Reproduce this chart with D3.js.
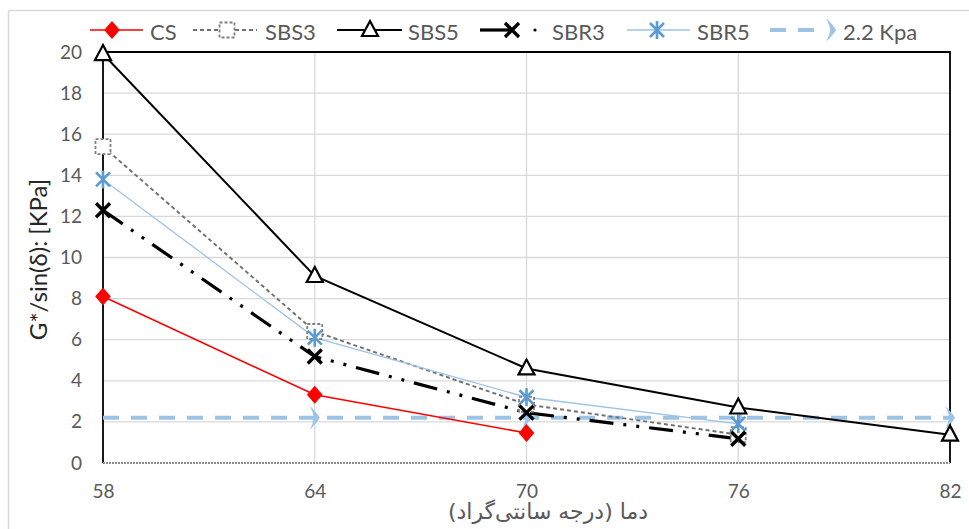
<!DOCTYPE html>
<html>
<head>
<meta charset="utf-8">
<script src="https://cdn.jsdelivr.net/npm/d3@7"></script>
<style>
  html, body { margin: 0; padding: 0; background: #fff; }
  svg { display: block; }
  text { font-family: Lato, "Open Sans", "DejaVu Sans", sans-serif; }
</style>
</head>
<body>
<svg id="chart" width="969" height="529"></svg>
<script>
// Temperature (°C) on the x axis
const temps = [58, 64, 70, 76, 82];
const xTicks = [58, 64, 70, 76, 82];
const yTicks = [0, 2, 4, 6, 8, 10, 12, 14, 16, 18, 20];

// G*/sin(δ) values [kPa] for each binder
const csValues   = [8.1, 3.32, 1.46];
const sbs3Values = [15.4, 6.4, 2.85, 1.38];
const sbs5Values = [19.9, 9.1, 4.6, 2.7, 1.38];
const sbr3Values = [12.3, 5.18, 2.45, 1.18];
const sbr5Values = [13.8, 6.1, 3.2, 1.9];
const limitValues = [2.2, 2.2, 2.2, 2.2, 2.2];

const seriesNames = ["CS", "SBS3", "SBS5", "SBR3", "SBR5", "2.2 Kpa"];

const svg = d3.select("#chart");
const W = 969, H = 529;
const m = { left: 103, right: W - 950, top: 52, bottom: H - 463 };

const x = d3.scaleLinear().domain([58, 82]).range([m.left, W - m.right]);
const y = d3.scaleLinear().domain([0, 20]).range([H - m.bottom, m.top]);

// outer chart frame (only top and left edges fall inside the view)
svg.append("line").attr("x1", 8.5).attr("x2", W).attr("y1", 10.5).attr("y2", 10.5)
  .attr("stroke", "#d9d9d9").attr("stroke-width", 1.5);
svg.append("line").attr("x1", 8.5).attr("x2", 8.5).attr("y1", 10.5).attr("y2", H)
  .attr("stroke", "#d9d9d9").attr("stroke-width", 1.5);

// gridlines
const grid = svg.append("g");
grid.selectAll(".hg").data(yTicks.filter(d => d > 0 && d < 20)).join("line")
  .attr("x1", x(58)).attr("x2", x(82))
  .attr("y1", d => y(d)).attr("y2", d => y(d))
  .attr("stroke", "#d9d9d9").attr("stroke-width", 1.3);
grid.selectAll(".vg").data(xTicks.filter(d => d > 58 && d < 82)).join("line")
  .attr("x1", d => x(d)).attr("x2", d => x(d))
  .attr("y1", y(0)).attr("y2", y(20))
  .attr("stroke", "#d9d9d9").attr("stroke-width", 1.3);

// plot border: solid top/left/right, dotted gray baseline
svg.append("path")
  .attr("d", `M${x(58)},${y(0)}V${y(20)}H${x(82)}V${y(0)}`)
  .attr("fill", "none").attr("stroke", "#000").attr("stroke-width", 1.8);
svg.append("line").attr("x1", x(58)).attr("x2", x(82)).attr("y1", y(0)).attr("y2", y(0))
  .attr("stroke", "#8c8c8c").attr("stroke-width", 1.8).attr("stroke-dasharray", "2,1");

// axes (labels only)
const yAxis = svg.append("g").attr("transform", `translate(${x(58)},0)`)
  .call(d3.axisLeft(y).tickValues(yTicks).tickSize(0).tickPadding(21));
const xAxis = svg.append("g").attr("transform", `translate(0,${y(0)})`)
  .call(d3.axisBottom(x).tickValues(xTicks).tickSize(0).tickPadding(22));
[yAxis, xAxis].forEach(a => {
  a.select(".domain").remove();
  a.selectAll("text").attr("fill", "#595959").style("font-size", "19px")
    .style("font-family", "Lato, 'Open Sans', sans-serif");
});

// axis titles
svg.append("text")
  .attr("transform", `translate(37,${(y(0) + y(20)) / 2 + 2}) rotate(-90)`)
  .attr("text-anchor", "middle").attr("dominant-baseline", "central")
  .attr("fill", "#262626").style("font-size", "24px")
  .text("G*/sin(δ): [KPa]");
svg.append("text")
  .attr("x", 548).attr("y", 519)
  .attr("text-anchor", "middle").attr("direction", "rtl")
  .attr("fill", "#595959").style("font-size", "22px")
  .style("font-family", "'DejaVu Sans', 'Noto Sans', sans-serif")
  .text("دما (درجه سانتی‌گراد)");

// marker drawing helpers
const markers = {
  diamond: (g) => g.append("path").attr("d", d3.symbol(d3.symbolDiamond2, 130)())
    .attr("fill", "#ff0000").attr("stroke", "#ff0000").attr("stroke-width", 1)
    .attr("transform", "scale(1,1.15)"),
  square: (g) => g.append("rect").attr("x", -7.5).attr("y", -7.5).attr("width", 15).attr("height", 15)
    .attr("fill", "#fff").attr("stroke", "#7f7f7f").attr("stroke-width", 1.8)
    .attr("stroke-dasharray", "3,2"),
  triangle: (g) => g.append("path").attr("d", "M0,-9L8,6H-8Z")
    .attr("fill", "#fff").attr("stroke", "#000").attr("stroke-width", 2.2),
  cross: (g) => g.append("path").attr("d", "M-7,-7L7,7M-7,7L7,-7")
    .attr("stroke", "#000").attr("stroke-width", 3.4),
  star: (g) => g.append("path").attr("d", "M-7,-7L7,7M-7,7L7,-7M0,-9V9")
    .attr("stroke", "#5b9bd5").attr("stroke-width", 2.6),
  chevron: (g) => g.append("path").attr("d", "M-5,-12Q3,-4 5,0Q3,4 -5,12Q-1,4 -1,0Q-1,-4 -5,-12Z")
    .attr("fill", "#9dc3e6").attr("stroke", "none")
};

const series = [
  { name: seriesNames[0], values: csValues, color: "#ff0000", width: 1.6, dash: null, marker: "diamond" },
  { name: seriesNames[1], values: sbs3Values, color: "#6f6f6f", width: 1.9, dash: "4,3", marker: "square" },
  { name: seriesNames[2], values: sbs5Values, color: "#000", width: 2, dash: null, marker: "triangle" },
  { name: seriesNames[3], values: sbr3Values, color: "#000", width: 3.2, dash: "24,10,3,10,3,10", marker: "cross" },
  { name: seriesNames[4], values: sbr5Values, color: "#9dc3e6", width: 1.3, dash: null, marker: "star" },
  { name: seriesNames[5], values: limitValues, color: "#9dc3e6", width: 4, dash: "16,12", marker: "chevron", skipFirst: true }
];

const line = d3.line().x((d, i) => x(temps[i])).y(d => y(d));

// draw order: reference line first, then the binder curves
const drawOrder = [5, 0, 1, 2, 4, 3];
drawOrder.forEach(k => {
  const s = series[k];
  svg.append("path").datum(s.values).attr("d", line)
    .attr("fill", "none").attr("stroke", s.color).attr("stroke-width", s.width)
    .attr("stroke-dasharray", s.dash);
});
drawOrder.forEach(k => {
  const s = series[k];
  s.values.forEach((v, i) => {
    if (s.skipFirst && i === 0) return; // first limit marker sits under the axis line
    const g = svg.append("g").attr("transform", `translate(${x(temps[i])},${y(v)})`);
    markers[s.marker](g);
  });
});

// legend
const legendItems = [
  { lx1: 90, lx2: 143, mx: 112, tx: 150 },
  { lx1: 193, lx2: 257, mx: 227, tx: 265 },
  { lx1: 337, lx2: 402, mx: 370, tx: 408 },
  { lx1: 480, lx2: 512, mx: 512, tx: 552 },
  { lx1: 627, lx2: 690, mx: 657, tx: 697 },
  { lx1: 770, lx2: 822, mx: 831, tx: 843 }
];
const ly = 30;
series.forEach((s, k) => {
  const L = legendItems[k];
  const g = svg.append("g");
  g.append("line").attr("x1", L.lx1).attr("x2", L.lx2).attr("y1", ly).attr("y2", ly)
    .attr("stroke", s.color).attr("stroke-width", s.width)
    .attr("stroke-dasharray", k === 3 ? null : s.dash);
  if (k === 3) {
    g.append("circle").attr("cx", 535).attr("cy", ly).attr("r", 1.6).attr("fill", "#000");
  }
  const mg = g.append("g").attr("transform", `translate(${L.mx},${ly})`);
  markers[s.marker](mg);
  g.append("text").attr("x", L.tx).attr("y", ly + 1).attr("dominant-baseline", "central")
    .attr("fill", "#595959").style("font-size", "22px").text(s.name);
});
</script>
</body>
</html>
